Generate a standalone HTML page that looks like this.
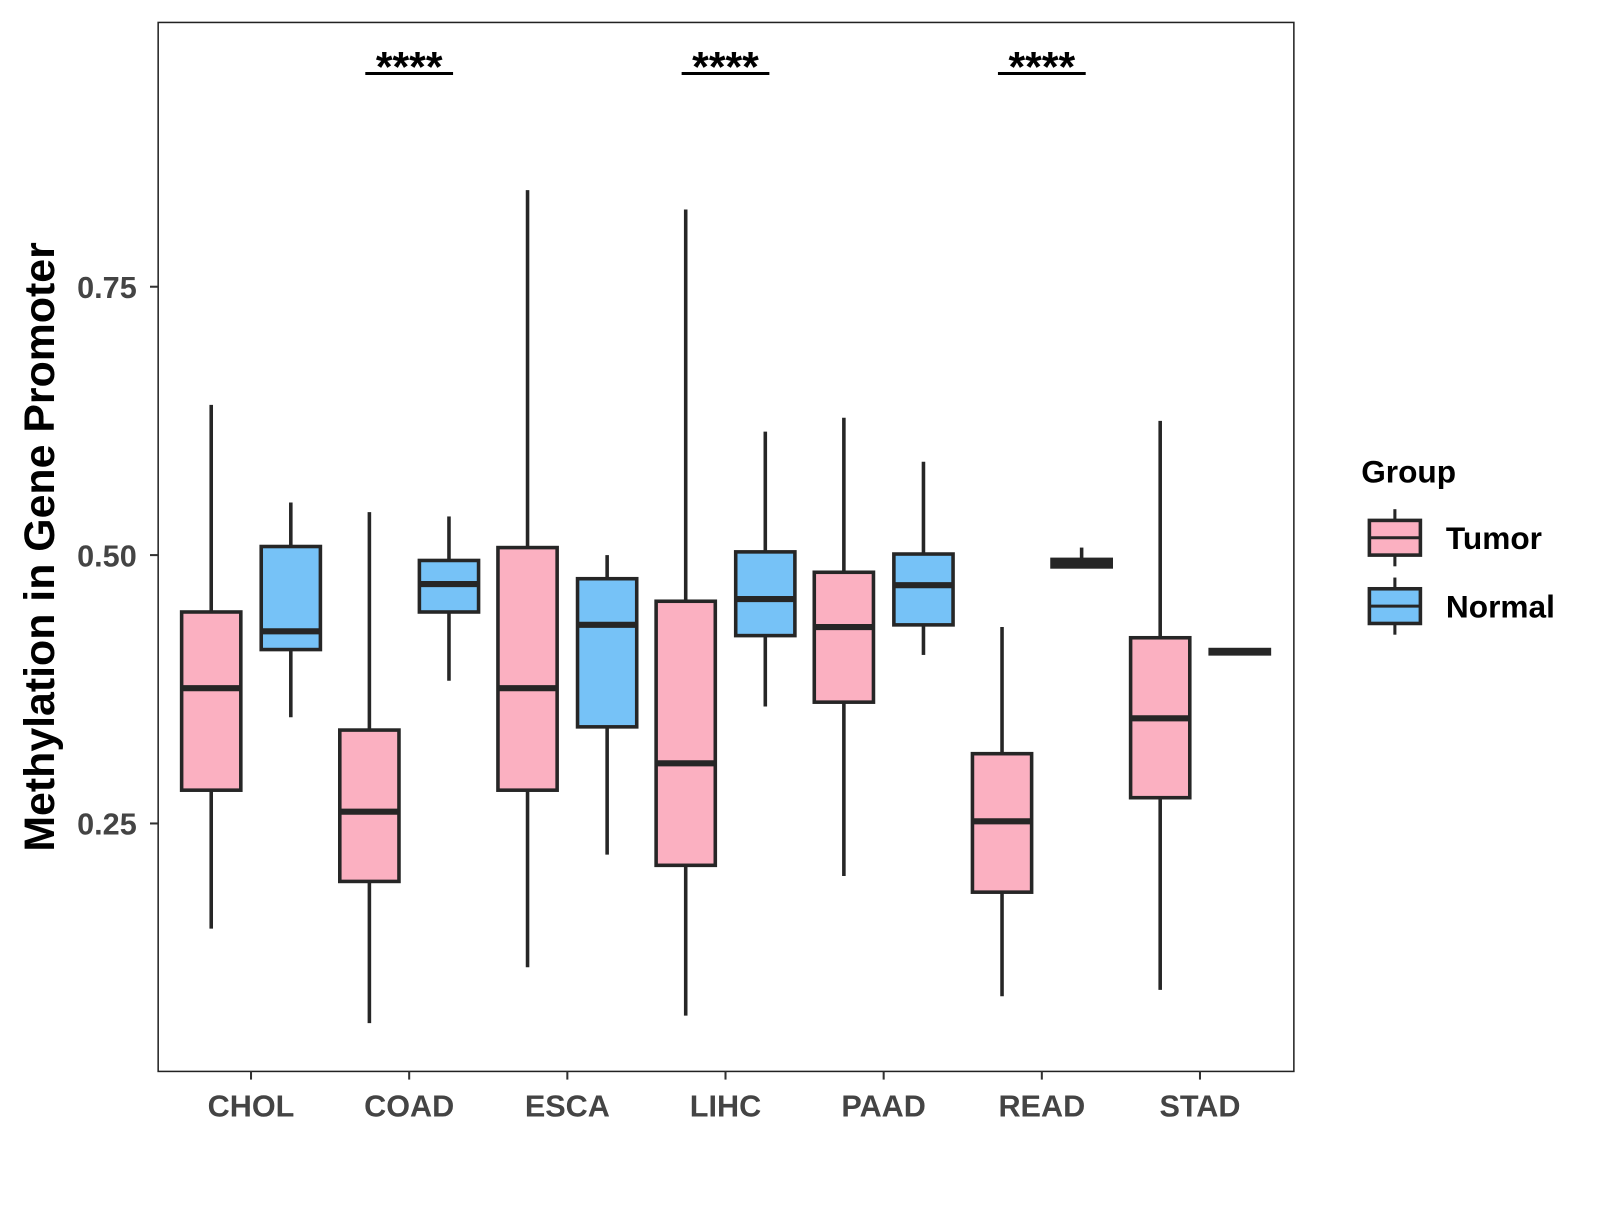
<!DOCTYPE html>
<html><head><meta charset="utf-8"><style>
body{margin:0;background:#fff;}
svg text{font-family:"Liberation Sans",Arial,sans-serif;font-weight:bold;}
</style></head><body>
<svg width="1600" height="1200" viewBox="0 0 1600 1200">
<g id="plot" transform="scale(1.0204)"></g>
</svg>
<script>
const categories=["CHOL","COAD","ESCA","LIHC","PAAD","READ","STAD"];
const tumorStats=[[0.152,0.281,0.376,0.447,0.640],[0.064,0.196,0.261,0.337,0.540],[0.116,0.281,0.376,0.507,0.840],[0.071,0.211,0.306,0.457,0.822],[0.201,0.363,0.433,0.484,0.628],[0.089,0.186,0.252,0.315,0.433],[0.095,0.274,0.348,0.423,0.625]];
const normalStats=[[0.349,0.412,0.429,0.508,0.549],[0.383,0.447,0.473,0.495,0.536],[0.221,0.340,0.435,0.478,0.500],[0.359,0.425,0.459,0.503,0.615],[0.407,0.435,0.472,0.501,0.587],[0.489,0.489,0.492,0.496,0.507],[0.407,0.408,0.410,0.412,0.413]];
const yTicks=[0.25,0.5,0.75];
const sigLabels=["","****","","****","","****",""];
const NS="http://www.w3.org/2000/svg";
const g=document.getElementById('plot');
const L=155,R=1268,T=22,B=1050;
function y(v){return 544-(v-0.5)*1052;}
function x(i){return 246+i*155;}
function mk(tag,attrs,parent){const e=document.createElementNS(NS,tag);for(const k in attrs)e.setAttribute(k,attrs[k]);(parent||g).appendChild(e);return e;}
let e;
e=mk('rect',{x:L,y:T,width:R-L,height:B-T,fill:'#fff',stroke:'#222','stroke-width':1.5});


yTicks.forEach(t=>{
  e=mk('line',{x1:L-8,x2:L,y1:y(t),y2:y(t),stroke:'#333','stroke-width':2});
  
  
  e=mk('text',{x:L-21,y:y(t)+11,'text-anchor':'end','font-size':30,fill:'#444'});
  e.textContent=t.toFixed(2);
  
  
});
function box(cx,s,fill,name){
  const w=58,gg=mk('g',{});
  
  
  mk('line',{x1:cx,x2:cx,y1:y(s[0]),y2:y(s[1]),stroke:'#262626','stroke-width':3.5},gg);
  mk('line',{x1:cx,x2:cx,y1:y(s[3]),y2:y(s[4]),stroke:'#262626','stroke-width':3.5},gg);
  mk('rect',{x:cx-w/2,y:y(s[3]),width:w,height:Math.max(1,y(s[1])-y(s[3])),fill:fill,stroke:'#262626','stroke-width':3.5},gg);
  mk('line',{x1:cx-w/2,x2:cx+w/2,y1:y(s[2]),y2:y(s[2]),stroke:'#262626','stroke-width':6},gg);
}
categories.forEach((c,i)=>{
  box(x(i)-39,tumorStats[i],'#fbb0c1','tumor-box-'+c.toLowerCase());
  box(x(i)+39,normalStats[i],'#76c2f7','normal-box-'+c.toLowerCase());
  e=mk('line',{x1:x(i),x2:x(i),y1:B,y2:B+8,stroke:'#333','stroke-width':2});
  
  
  e=mk('text',{x:x(i),y:B+44,'text-anchor':'middle','font-size':30,fill:'#444'});
  e.textContent=c;
  
  
  if(sigLabels[i]){
    e=mk('line',{x1:x(i)-43,x2:x(i)+43,y1:72,y2:72,stroke:'#000','stroke-width':3});
    
    
    e=mk('text',{x:x(i),y:80,'text-anchor':'middle','font-size':42,fill:'#000'});
    e.textContent=sigLabels[i];
    
    
  }
});
e=mk('text',{x:0,y:0,transform:'translate(53,536) rotate(-90)','text-anchor':'middle','font-size':42,fill:'#000'});
e.textContent='Methylation in Gene Promoter';


e=mk('text',{x:1334,y:473,'font-size':31,fill:'#000'});
e.textContent='Group';


[['Tumor','#fbb0c1',527],['Normal','#76c2f7',594]].forEach(([lab,col,cy])=>{
  const lg=mk('g',{});
  
  
  mk('line',{x1:1367,x2:1367,y1:cy-28,y2:cy+28,stroke:'#262626','stroke-width':3},lg);
  mk('rect',{x:1342,y:cy-17,width:50,height:34,fill:col,stroke:'#262626','stroke-width':3.5},lg);
  mk('line',{x1:1342,x2:1392,y1:cy,y2:cy,stroke:'#262626','stroke-width':3},lg);
  const t=mk('text',{x:1417,y:cy+11,'font-size':31,fill:'#000'},lg);
  t.textContent=lab;
});
</script>
</body></html>
